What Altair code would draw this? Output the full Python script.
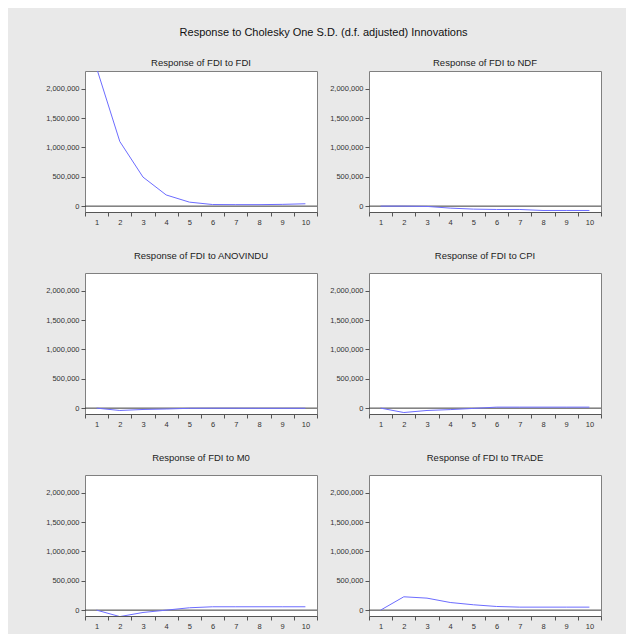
import altair as alt
import pandas as pd

periods = list(range(1, 11))

fdi_to_fdi = [2350000, 1100000, 494000, 190000, 68000, 27000, 25000, 25000, 30000, 40000]
fdi_to_ndf = [0, 0, -5000, -34000, -51000, -57000, -57000, -74000, -74000, -74000]
fdi_to_anovindu = [0, -40000, -23000, -15000, -3000, -2000, -2000, -3000, -3000, -3000]
fdi_to_cpi = [0, -75000, -40000, -25000, -5000, 17000, 17000, 17000, 17000, 17000]
fdi_to_m0 = [0, -110000, -40000, 0, 40000, 57000, 57000, 57000, 57000, 57000]
fdi_to_trade = [0, 227000, 204000, 130000, 91000, 62000, 51000, 51000, 51000, 51000]

panel_titles = [
    "Response of FDI to FDI",
    "Response of FDI to NDF",
    "Response of FDI to ANOVINDU",
    "Response of FDI to CPI",
    "Response of FDI to M0",
    "Response of FDI to TRADE",
]
y_ticks = [0, 500000, 1000000, 1500000, 2000000]
y_domain = [-100000, 2300000]
main_title = "Response to Cholesky One S.D. (d.f. adjusted) Innovations"

FONT = "Liberation Sans"


def panel(vals, title, toff):
    df = pd.DataFrame({"period": periods, "value": vals})
    x = alt.X(
        "period:O",
        bandPosition=0.5,
        scale=alt.Scale(type="band", paddingInner=0, paddingOuter=0),
        axis=alt.Axis(title=None, labelAngle=0, tickBand="extent"),
    )
    yaxis = alt.Axis(title=None, values=y_ticks, format=",d", grid=False, domain=False,
                     labelOverlap=False, tickCount=5)
    y = alt.Y("value:Q", scale=alt.Scale(domain=y_domain, nice=False, zero=False), axis=yaxis)
    zero = alt.Chart(pd.DataFrame({"z": [0]})).mark_rule(color="#3a3a3a", strokeWidth=1).encode(
        y=alt.Y("z:Q", scale=alt.Scale(domain=y_domain, nice=False, zero=False), axis=yaxis)
    )
    line = alt.Chart(df).mark_line(color="#6c6cff", strokeWidth=1, clip=True).encode(x=x, y=y)
    return alt.layer(zero, line).properties(
        width=232,
        height=141,
        title=alt.TitleParams(title, offset=toff, fontSize=9.5, font=FONT, fontWeight="normal", color="#222"),
    )


p = [
    panel(fdi_to_fdi, panel_titles[0], 4),
    panel(fdi_to_ndf, panel_titles[1], 4),
    panel(fdi_to_anovindu, panel_titles[2], 13),
    panel(fdi_to_cpi, panel_titles[3], 13),
    panel(fdi_to_m0, panel_titles[4], 13),
    panel(fdi_to_trade, panel_titles[5], 13),
]

chart = alt.vconcat(
    alt.hconcat(p[0], p[1], spacing=11),
    alt.hconcat(p[2], p[3], spacing=11),
    alt.hconcat(p[4], p[5], spacing=11),
    spacing=24,
).properties(
    title=alt.TitleParams(main_title, fontSize=11, font=FONT, fontWeight="normal", color="#111", anchor="middle", offset=19),
    background="#e9e9e9",
    padding={"left": 37, "top": 19, "right": 24, "bottom": 4},
).configure_view(
    stroke="#808080", fill="white"
).configure_axis(
    labelFont=FONT, labelFontSize=7.5, labelColor="#333", tickColor="#555",
    tickSize=4, labelPadding=2, domainColor="#555"
).configure_concat(spacing=11)

chart.save("out.html", embed_options={"renderer": "svg", "actions": False})
